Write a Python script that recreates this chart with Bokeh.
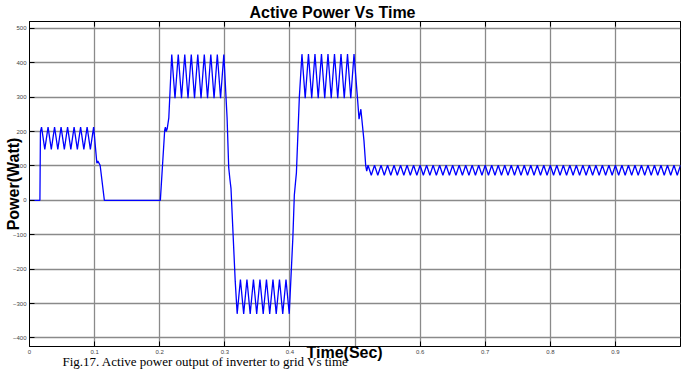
from bokeh.plotting import figure
from bokeh.models import Range1d, FixedTicker, LinearAxis, Title
from bokeh.embed import file_html
from bokeh.resources import INLINE

# ---- data (time in s, power in W) ----
seg1_t = [0.0, 0.0160, 0.0168, 0.0185, 0.0235, 0.0285, 0.0335, 0.0385, 0.0435, 0.0485,
          0.0535, 0.0585, 0.0635, 0.0685, 0.0735, 0.0785, 0.0835, 0.0885, 0.0935, 0.0985,
          0.1035, 0.1050, 0.1085, 0.1150]
seg1_p = [0, 0, 200, 213, 148, 213, 148, 213, 148, 213,
          148, 213, 148, 213, 148, 213, 148, 213, 148, 213,
          108, 114, 102, 0]

seg2_t = [0.2010, 0.2077, 0.2088, 0.2100, 0.2115, 0.2140,
          0.2185, 0.2235, 0.2285, 0.2335, 0.2385, 0.2435, 0.2485, 0.2535, 0.2585,
          0.2635, 0.2685, 0.2735, 0.2785, 0.2835, 0.2885, 0.2935, 0.2985,
          0.3035, 0.3060, 0.3078, 0.3095, 0.3160]
seg2_p = [0, 205, 213, 200, 208, 240,
          424, 297, 424, 297, 424, 297, 424, 297, 424,
          297, 424, 297, 424, 297, 424, 297, 424,
          240, 95, 62, 35, -235]

seg3_t = [0.3190, 0.3240, 0.3290, 0.3340, 0.3390, 0.3440, 0.3490, 0.3540, 0.3590,
          0.3640, 0.3690, 0.3740, 0.3790, 0.3840, 0.3890, 0.3940, 0.3990,
          0.4045, 0.4068, 0.4085, 0.4100, 0.4145]
seg3_p = [-330, -230, -330, -230, -330, -230, -330, -230, -330,
          -230, -330, -230, -330, -230, -330, -230, -330,
          -110, 15, 50, 80, 300]

seg4_t = [0.4185, 0.4235, 0.4285, 0.4335, 0.4385, 0.4435, 0.4485, 0.4535, 0.4585,
          0.4635, 0.4685, 0.4735, 0.4785, 0.4835, 0.4885, 0.4935, 0.4985,
          0.5037, 0.5062, 0.5090, 0.5138, 0.5165, 0.5180]
seg4_p = [425, 297, 425, 297, 425, 297, 425, 297, 425,
          297, 425, 297, 425, 297, 425, 297, 425,
          300, 236, 265, 173, 100, 85]

seg5_t = [0.520, 0.525, 0.530, 0.535, 0.540, 0.545, 0.550, 0.555, 0.560, 0.565,
          0.570, 0.575, 0.580, 0.585, 0.590, 0.595, 0.600, 0.605, 0.610, 0.615,
          0.620, 0.625, 0.630, 0.635, 0.640, 0.645, 0.650, 0.655, 0.660, 0.665,
          0.670, 0.675, 0.680, 0.685, 0.690, 0.695, 0.700, 0.705, 0.710, 0.715,
          0.720, 0.725, 0.730, 0.735, 0.740, 0.745, 0.750, 0.755, 0.760, 0.765,
          0.770, 0.775, 0.780, 0.785, 0.790, 0.795, 0.800, 0.805, 0.810, 0.815,
          0.820, 0.825, 0.830, 0.835, 0.840, 0.845, 0.850, 0.855, 0.860, 0.865,
          0.870, 0.875, 0.880, 0.885, 0.890, 0.895, 0.900, 0.905, 0.910, 0.915,
          0.920, 0.925, 0.930, 0.935, 0.940, 0.945, 0.950, 0.955, 0.960, 0.965,
          0.970, 0.975, 0.980, 0.985, 0.990, 0.995, 1.000]
seg5_p = [102, 73, 102, 73, 102, 73, 102, 73, 102, 73,
          102, 73, 102, 73, 102, 73, 102, 73, 102, 73,
          102, 73, 102, 73, 102, 73, 102, 73, 102, 73,
          102, 73, 102, 73, 102, 73, 102, 73, 102, 73,
          102, 73, 102, 73, 102, 73, 102, 73, 102, 73,
          102, 73, 102, 73, 102, 73, 102, 73, 102, 73,
          102, 73, 102, 73, 102, 73, 102, 73, 102, 73,
          102, 73, 102, 73, 102, 73, 102, 73, 102, 73,
          102, 73, 102, 73, 102, 73, 102, 73, 102, 73,
          102, 73, 102, 73, 102, 73, 102]

grid_x = [0.0, 0.1, 0.2, 0.3, 0.4, 0.5, 0.6, 0.7, 0.8, 0.9, 1.0]
x_ticks = [0.0, 0.1, 0.2, 0.3, 0.4, 0.6, 0.7, 0.8, 0.9]   # 0.5 hidden under the axis title
y_ticks = [-400, -300, -200, -100, 0, 100, 200, 300, 400, 500]

title_text = "Active Power Vs Time"
x_title = "Time(Sec)"
y_title = "Power(Watt)"
caption = "Fig.17. Active power output of inverter to grid Vs time"

t = seg1_t + seg2_t + seg3_t + seg4_t + seg5_t
pw = seg1_p + seg2_p + seg3_p + seg4_p + seg5_p

p = figure(width=681, height=369, output_backend="svg", toolbar_location=None,
           x_range=Range1d(0, 1.0), y_range=Range1d(-425, 520),
           min_border_left=29, min_border_right=1, min_border_top=21, min_border_bottom=23)
p.background_fill_color = "white"
p.border_fill_color = "white"
p.outline_line_color = "black"

p.line(t, pw, line_color="#0000ff", line_width=1.3)

ax = p.xaxis[0]
ax.ticker = FixedTicker(ticks=x_ticks)
ay = p.yaxis[0]
ay.ticker = FixedTicker(ticks=y_ticks)
for a in (ax, ay):
    a.major_tick_in = 5
    a.major_tick_out = 0
    a.minor_tick_line_color = None
    a.axis_line_color = "black"
    a.major_tick_line_color = "black"
    a.major_label_text_font = "Liberation Sans"
    a.major_label_text_font_size = "6px"
    a.major_label_text_color = "#444444"
    a.major_label_standoff = 3

ay.axis_label = y_title
ay.axis_label_text_font = "Liberation Sans"
ay.axis_label_text_font_style = "bold"
ay.axis_label_text_font_size = "16px"
ay.axis_label_text_color = "black"
ay.axis_label_standoff = -12

top = LinearAxis(ticker=FixedTicker(ticks=grid_x), major_label_text_font_size="1px",
                 major_label_text_color=None, major_label_standoff=0,
                 major_tick_in=5, major_tick_out=0,
                 minor_tick_line_color=None, axis_line_color="black")
p.add_layout(top, "above")

p.xgrid.ticker = FixedTicker(ticks=grid_x)
p.ygrid.ticker = FixedTicker(ticks=y_ticks)
for g in (p.xgrid, p.ygrid):
    g.grid_line_color = "#8a8a8a"
    g.grid_line_width = 1.3

p.title.text = title_text
p.title.align = "left"
p.title.offset = 220
p.title.standoff = 1
p.title.text_font = "Liberation Sans"
p.title.text_font_style = "bold"
p.title.text_font_size = "16px"
p.title.text_color = "black"

# caption panel sits right under the axis; the axis title is placed last and pulled up
cap = Title(text=caption, align="left", offset=33, standoff=-6, vertical_align="top",
            text_font="Liberation Serif", text_font_size="13px", text_font_style="normal",
            text_color="black")
p.add_layout(cap, "below")

xlab = Title(text=x_title, align="left", offset=277, standoff=-47, vertical_align="top",
             text_font="Liberation Sans", text_font_size="16px", text_font_style="bold",
             text_color="black")
p.add_layout(xlab, "below")

open("out.html", "w").write(file_html(p, INLINE))
